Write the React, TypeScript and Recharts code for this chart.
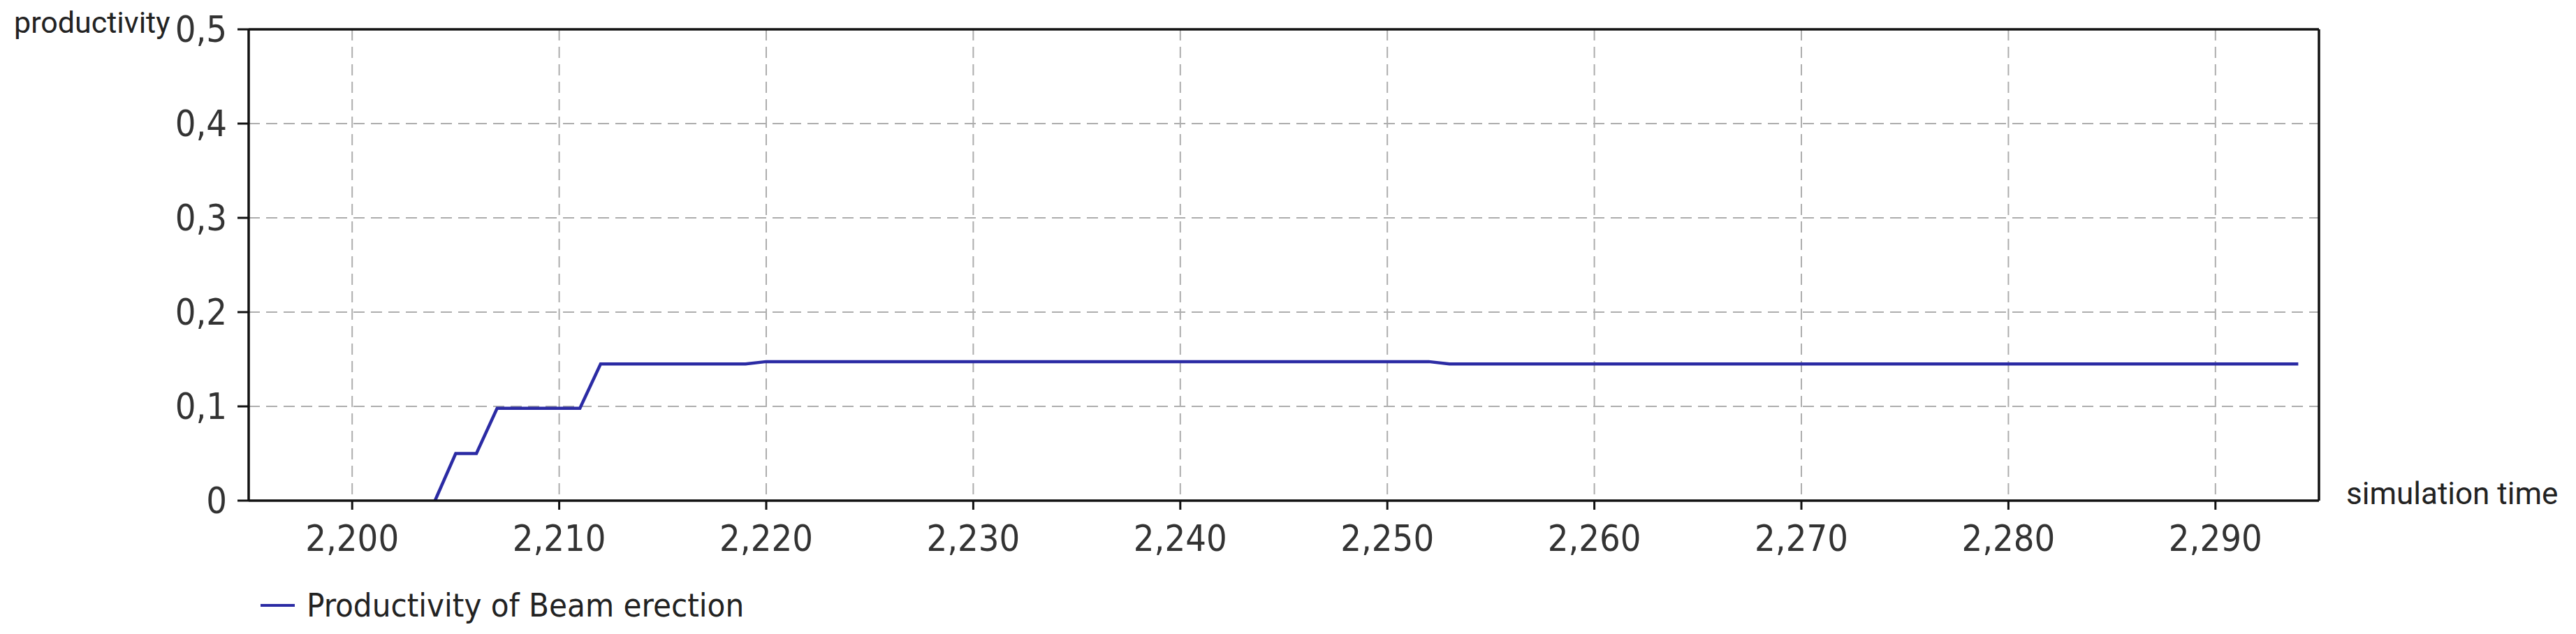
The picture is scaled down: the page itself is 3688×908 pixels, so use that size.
import { CartesianGrid, Legend, Line, LineChart, ReferenceLine, XAxis, YAxis } from 'recharts';

// simulation time at each breakpoint of the productivity curve
const times = [2204, 2205, 2206, 2207, 2211, 2212, 2219, 2220, 2252, 2253, 2294];
const productivity = [0, 0.05, 0.05, 0.098, 0.098, 0.145, 0.145, 0.1475, 0.1475, 0.145, 0.145];

const xTicks = [2200, 2210, 2220, 2230, 2240, 2250, 2260, 2270, 2280, 2290];
const yTicks = [0, 0.1, 0.2, 0.3, 0.4, 0.5];

const seriesName = 'Productivity of Beam erection';
const lineColor = '#2b2ba4';
const narrowFont = "'Liberation Sans Narrow', 'DejaVu Sans Condensed', 'Arial Narrow', sans-serif";
const titleFont = "Roboto, 'Noto Sans', sans-serif";

const data = times.map((time, i) => ({ time, value: productivity[i] }));

function formatY(value: number) {
  if (value === 0) {
    return '0';
  }
  return value.toFixed(1).replace('.', ',');
}

function formatX(value: number) {
  return new Intl.NumberFormat('en-US').format(value);
}

function YTitle({ viewBox }: any) {
  return (
    <text x={viewBox.x + 20} y={viewBox.y + 5} fill='#222' fontFamily={titleFont} fontSize={43}>
      productivity
    </text>
  );
}

function XTitle({ viewBox }: any) {
  return (
    <text
      x={viewBox.x + viewBox.width + 39}
      y={viewBox.y + 5}
      fill='#222'
      fontFamily={titleFont}
      fontSize={44}
    >
      simulation time
    </text>
  );
}

function LegendContent() {
  return (
    <div
      style={{
        display: 'flex',
        alignItems: 'center',
        gap: 17,
        whiteSpace: 'nowrap',
        fontFamily: narrowFont,
        fontSize: 47,
        lineHeight: '60px',
        color: '#222',
      }}
    >
      <span style={{ display: 'inline-block', width: 49, height: 4, background: lineColor }} />
      <span>{seriesName}</span>
    </div>
  );
}

export default function App() {
  return (
    <div style={{ position: 'absolute', left: 0, top: 0, background: '#fff' }}>
      <LineChart
        width={3688}
        height={908}
        data={data}
        margin={{ top: 42, right: 368, bottom: 0, left: 0 }}
      >
        <CartesianGrid stroke='#adadad' strokeWidth={2} strokeDasharray='16 9' />

        <XAxis
          dataKey='time'
          type='number'
          domain={[2195, 2295]}
          ticks={xTicks}
          tickFormatter={formatX}
          height={191}
          axisLine={{ stroke: '#111', strokeWidth: 3.5 }}
          tickLine={{ stroke: '#111', strokeWidth: 3 }}
          tickSize={13}
          tickMargin={22}
          tick={{ fill: '#333', fontSize: 52, fontFamily: narrowFont }}
          label={<XTitle />}
        />

        <YAxis
          type='number'
          domain={[0, 0.5]}
          ticks={yTicks}
          tickFormatter={formatY}
          width={356}
          axisLine={{ stroke: '#111', strokeWidth: 3.5 }}
          tickLine={{ stroke: '#111', strokeWidth: 3 }}
          tickSize={16}
          tickMargin={15}
          tick={{ fill: '#333', fontSize: 52, fontFamily: narrowFont }}
          label={<YTitle />}
        />

        {/* plot frame on top and right */}
        <ReferenceLine y={0.5} stroke='#111' strokeWidth={3.5} />
        <ReferenceLine x={2295} stroke='#111' strokeWidth={3.5} />

        <Legend
          layout='horizontal'
          verticalAlign='middle'
          align='center'
          wrapperStyle={{ left: 373, top: 837, width: 900 }}
          content={<LegendContent />}
        />

        <Line
          type='linear'
          dataKey='value'
          name={seriesName}
          stroke={lineColor}
          strokeWidth={4.5}
          dot={false}
          activeDot={false}
          isAnimationActive={false}
        />
      </LineChart>
    </div>
  );
}
